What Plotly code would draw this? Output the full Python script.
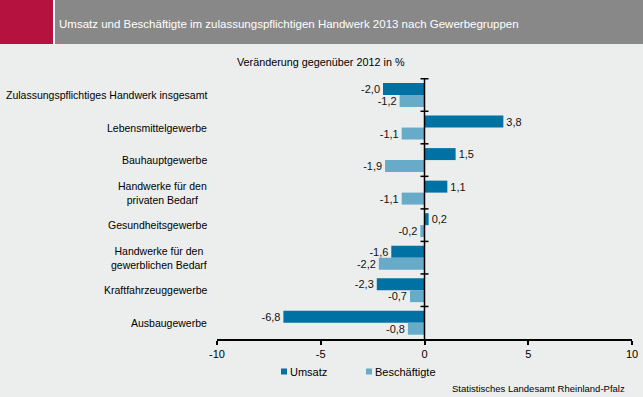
import plotly.graph_objects as go

categories = [
    "Zulassungspflichtiges Handwerk insgesamt",
    "Lebensmittelgewerbe",
    "Bauhauptgewerbe",
    "Handwerke für den<br>privaten Bedarf",
    "Gesundheitsgewerbe",
    "Handwerke für den<br>gewerblichen Bedarf",
    "Kraftfahrzeuggewerbe",
    "Ausbaugewerbe",
]
umsatz = [-2.0, 3.8, 1.5, 1.1, 0.2, -1.6, -2.3, -6.8]
beschaeftigte = [-1.2, -1.1, -1.9, -1.1, -0.2, -2.2, -0.7, -0.8]
x_ticks = [-10, -5, 0, 5, 10]
series_names = ["Umsatz", "Beschäftigte"]

title_text = "Umsatz und Beschäftigte im zulassungspflichtigen Handwerk 2013 nach Gewerbegruppen"
subtitle_text = "Veränderung gegenüber 2012 in %"
source_text = "Statistisches Landesamt Rheinland-Pfalz"

W, H = 643, 397
BG = "#eceeed"
FONT = "Liberation Sans, Arial, sans-serif"
COLORS = ["#0071a3", "#67abc9"]

fig = go.Figure()
for name, vals, col in zip(series_names, [umsatz, beschaeftigte], COLORS):
    fig.add_trace(go.Bar(
        y=categories, x=vals, orientation="h", name=name,
        marker=dict(color=col, line=dict(width=0)),
        texttemplate="%{x:.1f}", textposition="outside",
        textfont=dict(size=11, color="#111111", family=FONT), cliponaxis=False,
        showlegend=False,
    ))

ml, mr, mt, mb = 217, 11, 78, 58
PW, PH = W - ml - mr, H - mt - mb


def px_x(px):
    return (px - ml) / PW


def px_y(py):
    return (H - mb - py) / PH


shapes = [
    # header blocks
    dict(type="rect", xref="paper", yref="paper", x0=px_x(0), x1=px_x(53), y0=px_y(44), y1=px_y(0),
         fillcolor="#b5123f", line=dict(width=0), layer="below"),
    dict(type="rect", xref="paper", yref="paper", x0=px_x(53), x1=px_x(55), y0=px_y(44), y1=px_y(0),
         fillcolor="#ffffff", line=dict(width=0), layer="below"),
    dict(type="rect", xref="paper", yref="paper", x0=px_x(55), x1=px_x(W), y0=px_y(44), y1=px_y(0),
         fillcolor="#888888", line=dict(width=0), layer="below"),
    # zero line
    dict(type="line", xref="x", yref="paper", x0=0, x1=0, y0=0, y1=1,
         line=dict(color="#000000", width=1.5)),
]
# small cross ticks at category boundaries on zero line
for i in range(len(categories)):
    shapes.append(dict(type="line", xref="x", yref="y", xsizemode="pixel", xanchor=0,
                       x0=-4, x1=4, y0=i - 0.5, y1=i - 0.5,
                       line=dict(color="#000000", width=1.5)))

annotations = [
    dict(text=title_text, xref="paper", yref="paper", x=px_x(57), y=px_y(24),
         xanchor="left", yanchor="middle", showarrow=False,
         font=dict(size=11.5, color="#ffffff", family=FONT)),
    dict(text=subtitle_text, xref="paper", yref="paper", x=px_x(321), y=px_y(62),
         xanchor="center", yanchor="middle", showarrow=False,
         font=dict(size=10.8, color="#000000", family=FONT)),
    dict(text=source_text, xref="paper", yref="paper", x=px_x(627), y=px_y(388),
         xanchor="right", yanchor="middle", showarrow=False,
         font=dict(size=9.5, color="#000000", family=FONT)),
]
for c in categories:
    annotations.append(dict(text=c, xref="paper", yref="y", x=0, y=c, xanchor="right",
                            yanchor="middle", align="center", xshift=-8, showarrow=False,
                            font=dict(size=10.5, color="#000000", family=FONT)))

# legend (squares + names)
legend_x = [281, 366]
for name, col, lx in zip(series_names, COLORS, legend_x):
    shapes.append(dict(type="rect", xref="paper", yref="paper",
                       x0=px_x(lx), x1=px_x(lx + 6), y0=px_y(374.5), y1=px_y(368.5),
                       fillcolor=col, line=dict(width=0)))
    annotations.append(dict(text=name, xref="paper", yref="paper", x=px_x(lx + 7), y=px_y(371.5),
                            xanchor="left", yanchor="middle", showarrow=False,
                            font=dict(size=11, color="#000000", family=FONT)))

fig.update_layout(
    width=W, height=H, autosize=False,
    margin=dict(l=ml, r=mr, t=mt, b=mb, autoexpand=False),
    paper_bgcolor=BG, plot_bgcolor=BG,
    separators=",.",
    barmode="group", bargap=0.264, bargroupgap=0,
    font=dict(family=FONT, size=11, color="#000000"),
    showlegend=False,
    shapes=shapes,
    annotations=annotations,
)
fig.update_xaxes(range=[-10, 10], tickvals=x_ticks, ticktext=[str(v) for v in x_ticks],
                 showgrid=False, zeroline=False, showline=True, linecolor="#000000",
                 linewidth=2, ticks="outside", ticklen=4, tickwidth=1.5, tickcolor="#000000",
                 tickfont=dict(size=11, color="#000000"), fixedrange=True)
fig.update_yaxes(autorange="reversed", showgrid=False, zeroline=False, showline=False,
                 showticklabels=False, ticks="", fixedrange=True)

fig.write_html("out.html", config={"displayModeBar": False})

# remove default page margin so the figure sits at the window's top-left corner
with open("out.html", "r", encoding="utf-8") as f:
    html = f.read()
html = html.replace("<head>", "<head><style>html,body{margin:0;padding:0;overflow:hidden;}</style>", 1)
with open("out.html", "w", encoding="utf-8") as f:
    f.write(html)
